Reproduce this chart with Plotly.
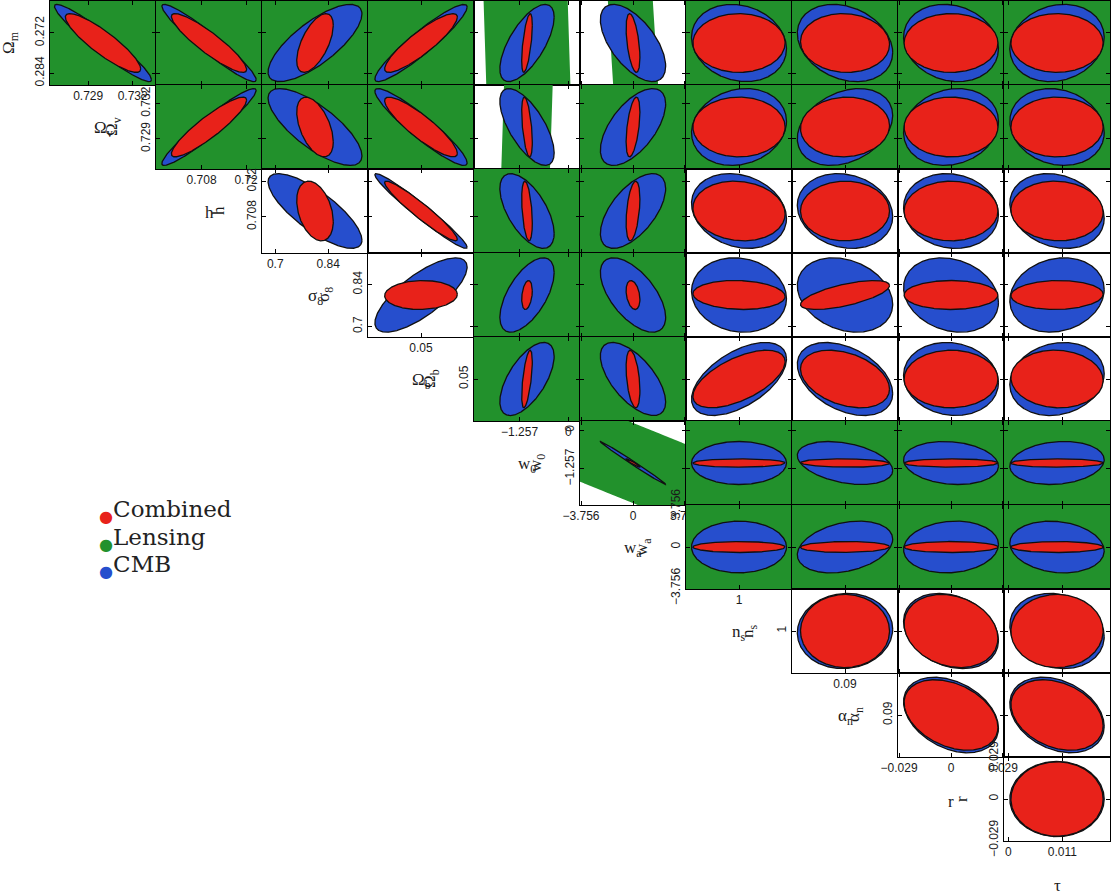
import numpy as np
import plotly.graph_objects as go

W, H = 1112, 896

# Parameter names, fiducial values and plotted half-ranges
NAMES = ["Ω<sub>m</sub>", "Ω<sub>v</sub>", "h", "σ<sub>8</sub>", "Ω<sub>b</sub>",
         "w<sub>0</sub>", "w<sub>a</sub>", "n<sub>s</sub>", "α<sub>n</sub>", "r", "τ"]
FIDUCIAL = [0.275, 0.73, 0.71, 0.805, 0.05, -1.066, 0.0, 1.0, 0.09, 0.0, 0.0099]
HALF_RANGE = [0.0125, 0.00357, 0.01429, 0.14, 0.005, 1.366, 3.83, 0.05, 0.05, 0.0296, 0.01078]
REVERSED = [True, False, False, False, False, False, False, False, False, False, False]
TICKS = [[0.272, 0.284], [0.729, 0.732], [0.708, 0.72], [0.7, 0.84], [0.05],
         [-1.257, 0], [-3.756, 0, 3.756], [1], [0.09], [-0.029, 0, 0.029], [0, 0.011]]

# Marginalised errors (ellipse half-extent) for each data set
SIGMA_CMB = [0.0115, 0.00327, 0.01272, 0.124, 0.00435, 0.70, 2.36, 0.0448, 0.045, 0.0265, 0.0096]
SIGMA_COMB = [0.00875, 0.00254, 0.01015, 0.0483, 0.00343, 0.137, 0.50, 0.0435, 0.042, 0.0262, 0.00938]
SIGMA_LENS = [2.5, 0.714, 0.71, 7.0, 0.25, 7.02, 38.3, 2.5, 2.5, 1.5, 0.54]
LENSING_PARAMS = [0, 1, 5, 6]   # Ωm, Ωv, w0, wa

# Correlation coefficients, row i lists pairs (i, j) for j > i
RHO_CMB = [
    [0.95, 0.95, -0.75, -0.93, -0.67, 0.6, 0.15, 0.25, 0.15, -0.15],
    [0.95, -0.75, -0.93, -0.67, 0.6, 0.15, 0.3, 0.15, -0.15],
    [-0.78, -0.97, -0.6, 0.6, -0.2, -0.15, -0.1, -0.2],
    [0.75, 0.6, -0.6, -0.1, -0.25, -0.2, 0.15],
    [0.62, -0.63, 0.55, -0.4, -0.1, 0.15],
    [-0.995, 0.0, -0.35, -0.15, 0.15],
    [0.0, 0.3, 0.1, -0.15],
    [0.05, -0.25, -0.15],
    [-0.35, -0.3],
    [0.0],
]
RHO_COMB = [
    [0.88, 0.90, -0.6, -0.88, -0.6, 0.5, 0.0, 0.05, 0.0, 0.0],
    [0.90, -0.5, -0.88, -0.5, 0.5, 0.0, 0.05, 0.0, 0.0],
    [-0.35, -0.95, -0.4, 0.4, -0.1, 0.0, 0.0, -0.05],
    [0.05, 0.3, -0.3, -0.1, 0.65, 0.0, 0.05],
    [0.6, -0.4, 0.6, -0.35, 0.0, -0.05],
    [-0.95, 0.0, -0.1, 0.0, 0.0],
    [0.0, 0.05, 0.0, 0.0],
    [0.0, -0.2, 0.0],
    [-0.35, -0.3],
    [0.0],
]
RHO_LENS = {(0, 5): 0.988, (1, 5): 0.996, (0, 6): 0.9991, (5, 6): -0.9826}

SETS = ["Combined", "Lensing", "CMB"]
COLORS = {"Combined": "rgb(232,34,26)", "Lensing": "rgb(34,145,44)", "CMB": "rgb(38,78,205)"}

# panel geometry in pixels
X0, PW = 50, 106
Y0, PH = 1, 84
TICK_FONT = dict(family="Liberation Sans, Arial, sans-serif", size=12, color="#1a1a1a")
TITLE_FONT = dict(family="Liberation Serif, Times New Roman, serif", size=17, color="#1a1a1a")


def ellipse(cx, cy, sx, sy, rho, n):
    t = np.linspace(0.0, 2.0 * np.pi, n)
    x = cx + sx * np.cos(t)
    y = cy + sy * (rho * np.cos(t) + np.sqrt(1.0 - rho ** 2) * np.sin(t))
    return x, y


def clip_polygon(x, y, xmin, xmax, ymin, ymax):
    """Sutherland-Hodgman clip of a closed polygon to a rectangle."""
    pts = list(zip(x, y))

    def clip(pts, inside, cross):
        out = []
        if not pts:
            return out
        prev = pts[-1]
        for cur in pts:
            if inside(cur):
                if not inside(prev):
                    out.append(cross(prev, cur))
                out.append(cur)
            elif inside(prev):
                out.append(cross(prev, cur))
            prev = cur
        return out

    def at_x(p, q, xv):
        t = (xv - p[0]) / (q[0] - p[0])
        return (xv, p[1] + t * (q[1] - p[1]))

    def at_y(p, q, yv):
        t = (yv - p[1]) / (q[1] - p[1])
        return (p[0] + t * (q[0] - p[0]), yv)

    pts = clip(pts, lambda p: p[0] >= xmin, lambda p, q: at_x(p, q, xmin))
    pts = clip(pts, lambda p: p[0] <= xmax, lambda p, q: at_x(p, q, xmax))
    pts = clip(pts, lambda p: p[1] >= ymin, lambda p, q: at_y(p, q, ymin))
    pts = clip(pts, lambda p: p[1] <= ymax, lambda p, q: at_y(p, q, ymax))
    if pts:
        pts.append(pts[0])
    return [p[0] for p in pts], [p[1] for p in pts]


def tick_text(v):
    return f"{v:g}".replace("-", "\u2212")


fig = go.Figure()
layout = {}
annotations = []
n = 0
for i in range(10):          # row parameter (y)
    for j in range(i + 1, 11):  # column parameter (x)
        n += 1
        xs = "x" if n == 1 else f"x{n}"
        ys = "y" if n == 1 else f"y{n}"
        first = (j == i + 1)

        left = X0 + PW * (j - 1)
        top = Y0 + PH * i
        xr = [FIDUCIAL[j] - HALF_RANGE[j], FIDUCIAL[j] + HALF_RANGE[j]]
        yr = [FIDUCIAL[i] - HALF_RANGE[i], FIDUCIAL[i] + HALF_RANGE[i]]
        if REVERSED[i]:
            yr = yr[::-1]

        common = dict(ticks="inside", ticklen=4, tickcolor="black", tickwidth=1,
                      showline=True, linecolor="black", linewidth=1, mirror="ticks",
                      showgrid=False, zeroline=False, tickfont=TICK_FONT,
                      tickmode="array", fixedrange=True, automargin=False)
        layout["xaxis" if n == 1 else f"xaxis{n}"] = dict(
            domain=[left / W, (left + PW) / W], anchor=ys, range=xr,
            tickvals=TICKS[j], ticktext=[tick_text(v) for v in TICKS[j]],
            showticklabels=first, **common)
        layout["yaxis" if n == 1 else f"yaxis{n}"] = dict(
            domain=[1 - (top + PH) / H, 1 - top / H], anchor=xs, range=yr,
            tickvals=TICKS[i], ticktext=[tick_text(v) for v in TICKS[i]],
            showticklabels=first, tickangle=-90, **common)

        # Lensing (drawn first, usually much larger than the panel);
        # the polygon is trimmed to a box a few panels wide around the view
        if i in LENSING_PARAMS or j in LENSING_PARAMS:
            rho = RHO_LENS.get((i, j), 0.0)
            ex, ey = ellipse(FIDUCIAL[j], FIDUCIAL[i], SIGMA_LENS[j], SIGMA_LENS[i], rho, 8001)
            ex, ey = clip_polygon(ex, ey,
                                  FIDUCIAL[j] - 3 * HALF_RANGE[j], FIDUCIAL[j] + 3 * HALF_RANGE[j],
                                  FIDUCIAL[i] - 3 * HALF_RANGE[i], FIDUCIAL[i] + 3 * HALF_RANGE[i])
            fig.add_trace(go.Scatter(x=ex, y=ey, xaxis=xs, yaxis=ys, mode="lines",
                                     fill="toself", fillcolor=COLORS["Lensing"],
                                     line=dict(width=0, color=COLORS["Lensing"], simplify=False),
                                     hoverinfo="skip", showlegend=False))
        # CMB
        ex, ey = ellipse(FIDUCIAL[j], FIDUCIAL[i], SIGMA_CMB[j], SIGMA_CMB[i],
                         RHO_CMB[i][j - i - 1], 721)
        fig.add_trace(go.Scatter(x=ex, y=ey, xaxis=xs, yaxis=ys, mode="lines",
                                 fill="toself", fillcolor=COLORS["CMB"],
                                 line=dict(width=1.3, color="#101010"),
                                 hoverinfo="skip", showlegend=False))
        # Combined
        ex, ey = ellipse(FIDUCIAL[j], FIDUCIAL[i], SIGMA_COMB[j], SIGMA_COMB[i],
                         RHO_COMB[i][j - i - 1], 721)
        fig.add_trace(go.Scatter(x=ex, y=ey, xaxis=xs, yaxis=ys, mode="lines",
                                 fill="toself", fillcolor=COLORS["Combined"],
                                 line=dict(width=1.3, color="#101010"),
                                 hoverinfo="skip", showlegend=False))

        if first:
            # y title of the row (rotated) and x title of the column (horizontal)
            annotations.append(dict(xref=f"{xs} domain", yref=f"{ys} domain",
                                    x=-(40 if i == 0 else 43) / PW, y=0.5,
                                    text=NAMES[i], textangle=-90, showarrow=False,
                                    xanchor="center", yanchor="middle", font=TITLE_FONT))
            annotations.append(dict(xref=f"{xs} domain", yref=f"{ys} domain",
                                    x=0.5, y=-44 / PH, text=NAMES[j], showarrow=False,
                                    xanchor="center", yanchor="middle", font=TITLE_FONT))

# key for the three data sets
for k, name in enumerate(SETS):
    annotations.append(dict(
        xref="paper", yref="paper", x=97 / W, y=1 - (511 + 27.5 * k) / H,
        xanchor="left", yanchor="middle", showarrow=False,
        text=f'<span style="color:{COLORS[name]}"><sub>●</sub></span>{name}',
        font=dict(family="DejaVu Serif, serif", size=23, color="#222")))

fig.update_layout(
    width=W, height=H,
    margin=dict(l=0, r=0, t=0, b=0, pad=0, autoexpand=False),
    paper_bgcolor="white", plot_bgcolor="white",
    showlegend=False,
    annotations=annotations,
    **layout,
)

fig.write_html("out.html")
